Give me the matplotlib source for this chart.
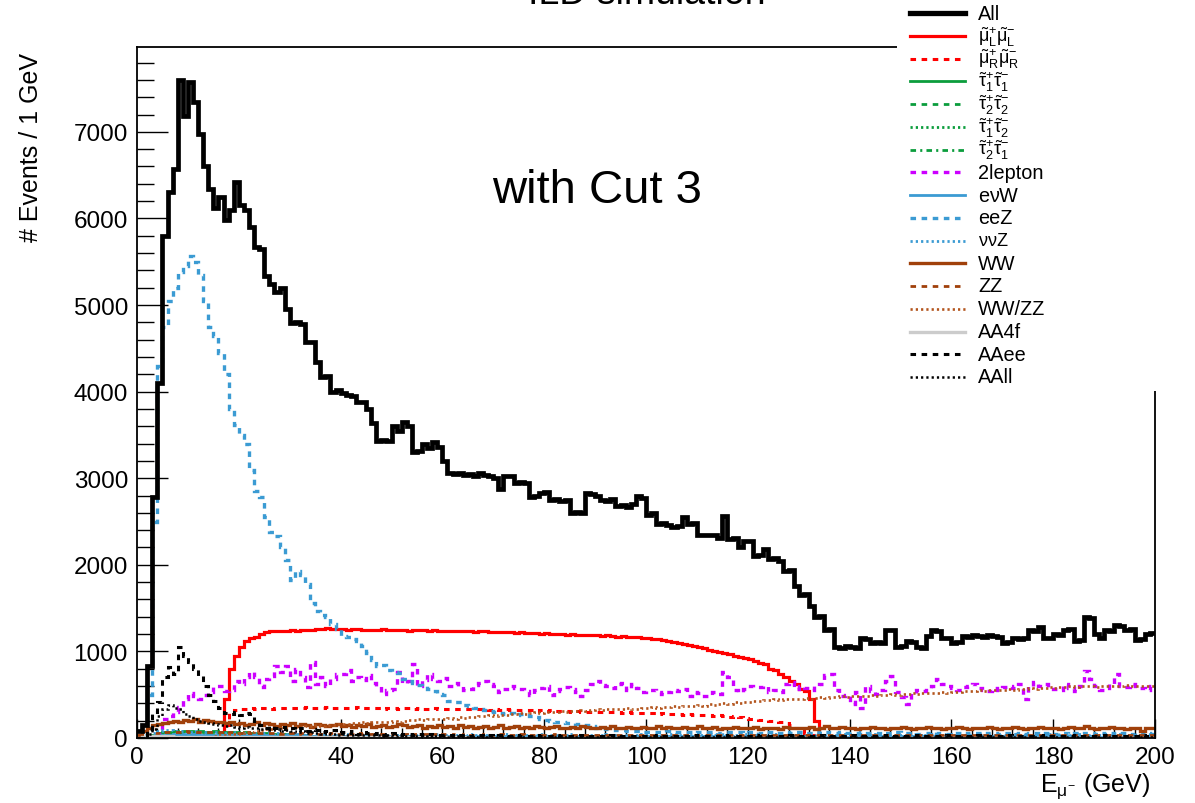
import numpy as np
import matplotlib
matplotlib.use('Agg')
import matplotlib.pyplot as plt
from matplotlib.lines import Line2D
from matplotlib.patches import Rectangle

plt.rcParams['font.family'] = ['Liberation Sans', 'DejaVu Sans']
plt.rcParams['mathtext.fontset'] = 'custom'
plt.rcParams['mathtext.rm'] = 'Liberation Sans'
plt.rcParams['mathtext.it'] = 'Liberation Sans'
plt.rcParams['mathtext.bf'] = 'Liberation Sans:bold'
plt.rcParams['lines.scale_dashes'] = False

# ---------------- data (1 GeV bins, 0-200 GeV) ----------------
BIN_EDGES = list(range(0, 201))

ALL = [
    80, 150, 830, 2780, 4100, 5800, 6300, 6570, 7600, 7180,
    7580, 7340, 6980, 6600, 6340, 6120, 6250, 5980, 6100, 6420,
    6150, 6100, 5900, 5670, 5650, 5340, 5240, 5150, 5200, 4960,
    4790, 4800, 4780, 4570, 4570, 4340, 4170, 4180, 4000, 4020,
    3990, 3960, 3950, 3880, 3880, 3800, 3640, 3430, 3440, 3430,
    3600, 3550, 3650, 3600, 3300, 3310, 3400, 3350, 3420, 3360,
    3200, 3060, 3050, 3060, 3040, 3050, 3030, 3060, 3040, 3020,
    3000, 2880, 3030, 3020, 2950, 2960, 2940, 2780, 2790, 2830,
    2840, 2750, 2760, 2740, 2750, 2600, 2610, 2600, 2830, 2820,
    2800, 2750, 2740, 2760, 2680, 2690, 2670, 2700, 2790, 2770,
    2570, 2600, 2470, 2480, 2460, 2440, 2450, 2550, 2470, 2480,
    2350, 2350, 2340, 2350, 2310, 2560, 2300, 2310, 2200, 2280,
    2280, 2100, 2110, 2180, 2070, 2080, 2040, 1930, 1940, 1760,
    1650, 1660, 1530, 1400, 1410, 1250, 1260, 1050, 1040, 1060,
    1050, 1040, 1150, 1140, 1100, 1110, 1100, 1250, 1250, 1050,
    1060, 1120, 1110, 1050, 1040, 1180, 1250, 1240, 1150, 1160,
    1100, 1110, 1180, 1170, 1190, 1180, 1170, 1190, 1180, 1170,
    1100, 1110, 1150, 1140, 1160, 1250, 1240, 1280, 1150, 1160,
    1200, 1190, 1250, 1260, 1120, 1130, 1400, 1390, 1200, 1150,
    1250, 1240, 1300, 1290, 1250, 1260, 1130, 1140, 1200, 1210,
]

SMU_L = [
    0, 0, 0, 0, 0, 0, 0, 0, 0, 0,
    0, 0, 0, 0, 0, 0, 0, 450, 800, 950,
    1050, 1120, 1150, 1170, 1200, 1220, 1230, 1240, 1240, 1235,
    1245, 1240, 1250, 1245, 1250, 1255, 1260, 1265, 1255, 1260,
    1255, 1250, 1260, 1255, 1250, 1250, 1245, 1250, 1255, 1250,
    1245, 1250, 1245, 1240, 1245, 1250, 1245, 1240, 1245, 1240,
    1240, 1235, 1240, 1230, 1235, 1230, 1225, 1235, 1230, 1225,
    1225, 1220, 1225, 1220, 1215, 1220, 1210, 1215, 1210, 1205,
    1210, 1200, 1205, 1200, 1195, 1200, 1190, 1195, 1190, 1185,
    1185, 1180, 1185, 1175, 1170, 1175, 1170, 1165, 1170, 1160,
    1150, 1145, 1140, 1130, 1120, 1110, 1100, 1090, 1070, 1060,
    1050, 1040, 1020, 1000, 990, 980, 970, 950, 940, 920,
    910, 890, 870, 850, 800, 780, 740, 700, 660, 620,
    570, 540, 450, 200, 0, 0, 0, 0, 0, 0,
] + [0] * 60

SMU_R = [
    0, 0, 0, 0, 0, 0, 0, 0, 0, 0,
    0, 0, 0, 0, 0, 0, 0, 150, 300, 320,
    340, 335, 345, 340, 350, 345, 340, 350, 345, 350,
    345, 350, 345, 355, 350, 345, 350, 355, 350, 345,
    350, 345, 350, 355, 345, 350, 345, 350, 340, 345,
    345, 340, 345, 350, 340, 345, 340, 335, 345, 340,
    335, 340, 335, 330, 340, 335, 330, 335, 330, 325,
    330, 325, 330, 320, 325, 320, 325, 320, 315, 320,
    315, 320, 310, 315, 310, 305, 310, 305, 300, 305,
    300, 305, 295, 300, 295, 290, 295, 290, 285, 290,
    285, 290, 280, 285, 280, 275, 280, 270, 275, 270,
    265, 270, 260, 255, 260, 250, 245, 250, 240, 235,
    225, 220, 210, 205, 200, 195, 185, 170, 150, 120,
    90, 60, 30, 10, 0, 0, 0, 0, 0, 0,
] + [0] * 60

STAU_11 = [
    0, 0, 0, 30, 60, 70, 75, 80, 75, 80,
    80, 75, 80, 70, 75, 80, 70, 75, 70, 65,
    60, 65, 55, 60, 50, 55, 45, 50, 40, 45,
    35, 30, 30, 25, 20, 20, 15, 10, 10, 5,
] + [0] * 160
STAU_22 = [
    0, 0, 0, 20, 35, 40, 45, 40, 45, 40,
    45, 40, 40, 35, 40, 35, 35, 30, 35, 30,
    25, 30, 25, 20, 25, 20, 15, 15, 10, 10,
] + [0] * 170
STAU_12 = [
    0, 0, 0, 15, 25, 30, 30, 35, 30, 30,
    35, 30, 30, 25, 30, 25, 25, 20, 25, 20,
    20, 15, 20, 15, 15, 10, 15, 10, 10, 5,
] + [0] * 170
STAU_21 = [
    0, 0, 0, 10, 20, 25, 25, 30, 25, 25,
    30, 25, 25, 20, 25, 20, 20, 15, 20, 15,
    15, 10, 15, 10, 10, 5, 10, 5, 5, 5,
] + [0] * 170

LEP2 = [
    0, 0, 0, 0, 50, 220, 250, 300, 360, 450,
    520, 480, 450, 500, 530, 600, 600, 540, 560, 660,
    620, 700, 760, 700, 590, 680, 720, 830, 760, 830,
    660, 800, 700, 590, 880, 620, 700, 600, 680, 740,
    740, 780, 660, 700, 665, 730, 640, 600, 510, 560,
    570, 760, 640, 660, 850, 600, 670, 740, 680, 660,
    690, 600, 640, 600, 550, 570, 610, 640, 660, 620,
    600, 530, 570, 600, 580, 570, 540, 500, 550, 580,
    600, 500, 540, 570, 590, 570, 530, 480, 560, 620,
    660, 610, 600, 580, 620, 640, 550, 620, 580, 530,
    560, 550, 530, 510, 530, 560, 540, 570, 480, 530,
    520, 480, 480, 530, 510, 760, 700, 550, 530, 570,
    600, 590, 590, 600, 530, 560, 530, 620, 650, 570,
    600, 580, 560, 600, 620, 730, 740, 560, 480, 500,
    390, 530, 350, 600, 540, 510, 560, 660, 720, 530,
    470, 390, 520, 560, 540, 580, 600, 680, 620, 600,
    580, 560, 590, 600, 620, 580, 560, 540, 580, 560,
    590, 600, 580, 620, 450, 600, 650, 600, 620, 590,
    570, 560, 620, 580, 540, 600, 770, 680, 600, 560,
    580, 620, 740, 600, 590, 620, 600, 580, 560, 600,
]

ENUW = [
    0, 0, 10, 20, 30, 40, 40, 45, 40, 45,
    40, 45, 40, 40, 35, 40, 35, 40, 35, 30,
    35, 30, 35, 30, 30, 35, 30, 25, 30, 30,
    25, 30, 25, 30, 25, 25, 30, 25, 25, 30,
    25, 20, 25, 25, 20, 25, 20, 25, 20, 25,
    20, 25, 20, 20, 25, 20, 25, 20, 20, 25,
    20, 20, 25, 20, 20, 25, 20, 20, 25, 20,
    20, 25, 20, 20, 25, 20, 20, 15, 20, 25,
    20, 15, 20, 25, 20, 15, 20, 20, 25, 20,
    15, 20, 25, 20, 15, 20, 20, 25, 20, 15,
    20, 25, 20, 15, 20, 20, 25, 20, 15, 20,
    25, 20, 15, 20, 20, 25, 20, 15, 20, 25,
    20, 15, 20, 20, 25, 20, 15, 20, 25, 20,
    15, 20, 20, 25, 20, 15, 20, 25, 20, 15,
    20, 20, 25, 20, 15, 20, 25, 20, 15, 20,
    20, 25, 20, 15, 20, 25, 20, 15, 20, 20,
    25, 20, 15, 20, 25, 20, 15, 20, 20, 25,
    20, 15, 20, 25, 20, 15, 20, 20, 25, 20,
    15, 20, 25, 20, 15, 20, 20, 25, 20, 15,
    20, 25, 20, 15, 20, 20, 25, 20, 15, 20,
]

EEZ = [
    0, 30, 500, 2500, 4300, 4750, 5050, 5200, 5380, 5450,
    5570, 5500, 5350, 5050, 4750, 4640, 4450, 4200, 3800, 3620,
    3500, 3400, 3100, 2850, 2780, 2550, 2380, 2330, 2200, 2050,
    1820, 1930, 1880, 1780, 1560, 1470, 1420, 1400, 1320, 1260,
    1180, 1170, 1140, 1120, 1060, 980, 900, 830, 840, 780,
    760, 750, 680, 660, 640, 610, 600, 570, 540, 510,
    500, 430, 410, 420, 380, 370, 350, 340, 320, 310,
    300, 290, 280, 290, 270, 280, 260, 250, 240, 220,
    210, 200, 190, 180, 170, 170, 160, 150, 150, 140,
    120, 110, 100, 100, 90, 90, 80, 80, 80, 75,
    70, 75, 65, 70, 80, 70, 65, 75, 70, 60,
    70, 65, 75, 70, 60, 65, 70, 75, 65, 60,
    65, 70, 60, 65, 70, 60, 55, 65, 60, 70,
    65, 60, 55, 65, 60, 70, 55, 60, 65, 60,
    55, 60, 65, 60, 55, 60, 50, 60, 55, 65,
    60, 55, 60, 50, 55, 60, 65, 55, 60, 50,
    55, 60, 50, 55, 60, 55, 50, 60, 55, 50,
    55, 60, 50, 55, 50, 60, 55, 50, 55, 60,
    50, 55, 60, 50, 55, 50, 55, 60, 50, 55,
    50, 55, 50, 60, 55, 50, 55, 50, 55, 50,
]

NUNUZ = [
    0, 0, 20, 60, 80, 90, 90, 85, 80, 80,
    75, 80, 70, 75, 70, 65, 70, 60, 65, 60,
    60, 55, 60, 55, 50, 55, 50, 55, 50, 45,
    45, 50, 45, 40, 45, 40, 45, 40, 40, 45,
    40, 45, 40, 35, 40, 45, 40, 35, 40, 40,
    35, 40, 45, 40, 35, 40, 40, 35, 40, 45,
    40, 35, 40, 40, 35, 45, 40, 35, 40, 40,
    35, 40, 45, 40, 35, 40, 40, 35, 40, 45,
    40, 35, 40, 40, 35, 45, 40, 35, 40, 40,
    35, 40, 45, 40, 35, 40, 40, 35, 40, 45,
    40, 35, 40, 40, 35, 45, 40, 35, 40, 40,
    35, 40, 45, 40, 35, 40, 40, 35, 40, 45,
    40, 35, 40, 40, 35, 45, 40, 35, 40, 40,
    35, 40, 45, 40, 35, 40, 40, 35, 40, 45,
    40, 35, 40, 40, 35, 45, 40, 35, 40, 40,
    35, 40, 45, 40, 35, 40, 40, 35, 40, 45,
    40, 35, 40, 40, 35, 45, 40, 35, 40, 40,
    35, 40, 45, 40, 35, 40, 40, 35, 40, 45,
    40, 35, 40, 40, 35, 45, 40, 35, 40, 40,
    35, 40, 45, 40, 35, 40, 40, 35, 40, 45,
]

WW = [
    30, 80, 120, 150, 160, 170, 180, 200, 190, 210,
    200, 220, 190, 210, 200, 180, 190, 170, 180, 160,
    170, 150, 160, 180, 150, 170, 160, 140, 160, 150,
    170, 140, 160, 150, 130, 160, 150, 140, 150, 160,
    140, 150, 130, 150, 140, 160, 130, 140, 150, 130,
    140, 160, 150, 130, 140, 150, 120, 140, 130, 150,
    130, 140, 120, 150, 130, 140, 120, 130, 140, 120,
    130, 150, 120, 130, 140, 120, 130, 120, 140, 130,
    120, 130, 140, 120, 110, 130, 120, 140, 130, 110,
    120, 130, 120, 140, 110, 120, 130, 110, 120, 130,
    120, 110, 140, 120, 130, 110, 120, 130, 110, 120,
    140, 110, 120, 130, 100, 120, 110, 130, 120, 110,
    120, 130, 100, 120, 110, 120, 100, 130, 110, 120,
    110, 120, 130, 100, 120, 140, 110, 120, 130, 110,
    120, 100, 110, 120, 130, 110, 120, 100, 120, 110,
    130, 120, 100, 110, 120, 130, 110, 120, 100, 110,
    120, 130, 110, 100, 120, 110, 120, 130, 110, 100,
    120, 110, 130, 120, 100, 110, 120, 130, 110, 120,
    110, 100, 120, 130, 110, 120, 140, 110, 100, 120,
    110, 130, 120, 110, 100, 120, 110, 80, 110, 120,
]

ZZ = [
    0, 10, 30, 50, 60, 70, 70, 75, 70, 80,
    75, 70, 75, 70, 65, 70, 65, 60, 65, 60,
    60, 65, 60, 55, 60, 55, 60, 55, 50, 55,
    55, 50, 55, 50, 55, 50, 45, 50, 55, 50,
    50, 45, 50, 55, 50, 45, 50, 45, 50, 45,
    45, 50, 45, 40, 45, 50, 45, 40, 45, 40,
    45, 40, 45, 40, 45, 40, 35, 40, 45, 40,
    40, 45, 40, 35, 40, 45, 40, 35, 40, 40,
    35, 40, 45, 40, 35, 40, 40, 35, 40, 35,
    40, 35, 40, 35, 40, 35, 40, 35, 35, 40,
    35, 40, 35, 40, 35, 35, 40, 35, 40, 35,
    35, 40, 35, 30, 35, 40, 35, 30, 35, 35,
    30, 35, 40, 35, 30, 35, 35, 30, 35, 40,
    35, 30, 35, 35, 30, 35, 40, 35, 30, 35,
    35, 30, 35, 40, 35, 30, 35, 35, 30, 35,
    40, 35, 30, 35, 35, 30, 35, 40, 35, 30,
    35, 35, 30, 35, 40, 35, 30, 35, 35, 30,
    35, 40, 35, 30, 35, 35, 30, 35, 40, 35,
    30, 35, 35, 30, 35, 40, 35, 30, 35, 35,
    30, 35, 40, 35, 30, 35, 35, 30, 35, 30,
]

WWZZ = [
    0, 0, 0, 0, 0, 0, 0, 0, 0, 0,
    0, 0, 0, 0, 0, 20, 30, 40, 50, 50,
    60, 70, 70, 80, 90, 100, 100, 110, 120, 120,
    120, 130, 125, 140, 135, 150, 140, 155, 150, 160,
    165, 160, 175, 170, 180, 175, 185, 180, 190, 185,
    195, 190, 200, 210, 205, 215, 210, 220, 215, 225,
    220, 230, 225, 240, 235, 245, 240, 255, 250, 260,
    255, 265, 270, 280, 275, 285, 280, 290, 295, 290,
    300, 295, 305, 310, 305, 315, 310, 320, 315, 325,
    330, 320, 335, 330, 340, 335, 345, 330, 340, 350,
    345, 355, 350, 360, 355, 365, 360, 370, 365, 375,
    380, 370, 390, 385, 395, 400, 390, 410, 405, 420,
    415, 430, 425, 440, 435, 445, 440, 450, 445, 455,
    450, 460, 455, 465, 470, 460, 475, 470, 480, 475,
    485, 480, 490, 485, 495, 490, 500, 495, 505, 500,
    510, 505, 515, 510, 520, 515, 525, 520, 530, 525,
    535, 530, 540, 545, 540, 550, 545, 555, 550, 560,
    555, 565, 560, 570, 565, 575, 570, 580, 575, 585,
    580, 590, 585, 595, 590, 600, 595, 600, 590, 605,
    600, 595, 605, 600, 610, 600, 595, 605, 600, 595,
]

AA4F = [
    0, 15, 20, 20, 20, 18, 18, 16, 16, 15,
    15, 15, 14, 14, 14, 13, 13, 13, 12, 12,
    12, 12, 11, 11, 11, 10, 10, 10, 10, 10,
    10, 10, 9, 9, 9, 9, 9, 9, 8, 8,
    8, 8, 8, 8, 8, 8, 7, 7, 7, 7,
    7, 7, 7, 7, 7, 6, 6, 6, 6, 6,
    6, 6, 6, 6, 6, 6, 5, 5, 5, 5,
    5, 5, 5, 5, 5, 5, 5, 5, 5, 5,
    5, 5, 5, 5, 5, 5, 5, 5, 5, 5,
    5, 5, 5, 5, 5, 5, 5, 5, 5, 5,
] + [4] * 100

AAEE = [
    0, 0, 100, 300, 420, 700, 820, 740, 1050, 950,
    880, 800, 720, 600, 500, 430, 350, 290, 280, 300,
    260, 290, 280, 200, 150, 120, 140, 110, 130, 100,
    120, 90, 110, 80, 100, 90, 70, 80, 90, 60,
    70, 60, 80, 50, 70, 60, 50, 60, 40, 50,
    60, 40, 50, 45, 40, 50, 35, 45, 40, 35,
    30, 40, 25, 35, 30, 25, 35, 30, 20, 30,
    25, 30, 20, 25, 30, 20, 25, 20, 30, 25,
    20, 25, 30, 20, 25, 20, 25, 30, 20, 25,
    20, 25, 20, 30, 25, 20, 25, 20, 25, 20,
    25, 20, 30, 25, 20, 25, 20, 25, 20, 30,
    25, 20, 25, 20, 25, 30, 20, 25, 20, 25,
    20, 30, 25, 20, 25, 20, 25, 20, 30, 25,
    20, 25, 20, 25, 30, 20, 25, 20, 25, 20,
    30, 25, 20, 25, 20, 25, 20, 30, 25, 20,
    25, 20, 25, 30, 20, 25, 20, 25, 20, 30,
    25, 20, 25, 20, 25, 30, 20, 25, 20, 25,
    20, 30, 25, 20, 25, 20, 25, 20, 30, 25,
    20, 25, 20, 25, 30, 20, 25, 20, 25, 20,
    30, 25, 20, 25, 20, 25, 20, 30, 25, 20,
]

AALL = [
    0, 0, 50, 100, 250, 330, 380, 350, 330, 280,
    250, 220, 200, 190, 170, 160, 150, 140, 150, 130,
    120, 130, 110, 120, 100, 110, 90, 100, 80, 90,
    80, 70, 80, 60, 70, 60, 50, 60, 50, 40,
    45, 40, 35, 40, 30, 35, 30, 35, 25, 30,
    25, 30, 20, 25, 20, 25, 20, 15, 20, 15,
    20, 15, 15, 20, 15, 10, 15, 20, 15, 10,
    15, 10, 15, 10, 15, 10, 10, 15, 10, 10,
    15, 10, 10, 15, 10, 10, 15, 10, 10, 15,
    10, 10, 15, 10, 10, 15, 10, 10, 15, 10,
    10, 15, 10, 10, 15, 10, 10, 15, 10, 10,
    15, 10, 10, 15, 10, 10, 15, 10, 10, 15,
    10, 10, 15, 10, 10, 15, 10, 10, 15, 10,
    10, 15, 10, 10, 15, 10, 10, 15, 10, 10,
    15, 10, 10, 15, 10, 10, 15, 10, 10, 15,
    10, 10, 15, 10, 10, 15, 10, 10, 15, 10,
    10, 15, 10, 10, 15, 10, 10, 15, 10, 10,
    15, 10, 10, 15, 10, 10, 15, 10, 10, 15,
    10, 10, 15, 10, 10, 15, 10, 10, 15, 10,
    10, 15, 10, 10, 15, 10, 10, 15, 10, 10,
]

X_TICKS = [0, 20, 40, 60, 80, 100, 120, 140, 160, 180, 200]
Y_TICKS = [0, 1000, 2000, 3000, 4000, 5000, 6000, 7000]

LABELS = ['All',
          r'$\tilde{\mu}_{L}^{+}\tilde{\mu}_{L}^{-}$',
          r'$\tilde{\mu}_{R}^{+}\tilde{\mu}_{R}^{-}$',
          r'$\tilde{\tau}_{1}^{+}\tilde{\tau}_{1}^{-}$',
          r'$\tilde{\tau}_{2}^{+}\tilde{\tau}_{2}^{-}$',
          r'$\tilde{\tau}_{1}^{+}\tilde{\tau}_{2}^{-}$',
          r'$\tilde{\tau}_{2}^{+}\tilde{\tau}_{1}^{-}$',
          '2lepton', r'e$\nu$W', 'eeZ', r'$\nu\nu$Z', 'WW', 'ZZ', 'WW/ZZ',
          'AA4f', 'AAee', 'AAll']

# ---------------- styles ----------------
RED = '#ff0000'
GREEN = '#0b9d3c'
BLUE = '#3b9bd3'
MAG = '#cc00ff'
BROWN = '#a0400a'
BROWN2 = '#b3541c'
GREY = '#cccccc'
SOLID = '-'
DASH = (0, (4.0, 4.0))
DOT = (0, (1.6, 2.2))
DASHDOT = (0, (4.0, 3.0, 1.5, 3.0))

series = [
    (ALL, 'k', 3.4, SOLID),
    (SMU_L, RED, 2.3, SOLID),
    (SMU_R, RED, 2.2, DASH),
    (STAU_11, GREEN, 2.0, SOLID),
    (STAU_22, GREEN, 2.0, DASH),
    (STAU_12, GREEN, 2.0, DOT),
    (STAU_21, GREEN, 2.0, DASHDOT),
    (LEP2, MAG, 2.4, DASH),
    (ENUW, BLUE, 2.0, SOLID),
    (EEZ, BLUE, 2.4, DASH),
    (NUNUZ, BLUE, 2.0, DOT),
    (WW, BROWN, 2.4, SOLID),
    (ZZ, BROWN, 2.0, DASH),
    (WWZZ, BROWN2, 1.9, DOT),
    (AA4F, GREY, 2.4, SOLID),
    (AAEE, 'k', 2.2, DASH),
    (AALL, 'k', 1.8, DOT),
]

W, H = 1195, 804
fig = plt.figure(figsize=(W / 100, H / 100), dpi=100)
ax = fig.add_axes([137 / W, 1 - 739 / H, 1018 / W, 691 / H])

draw_order = list(range(1, len(series))) + [0]
for i in draw_order:
    vals, col, lw, ls = series[i]
    ax.stairs(vals, BIN_EDGES, color=col, linewidth=lw, linestyle=ls,
              baseline=None, zorder=3 if i == 0 else 2)

ax.set_xlim(0, 200)
ax.set_ylim(0, 7980)
ax.set_xticks(X_TICKS)
ax.set_yticks(Y_TICKS)
ax.set_xticks(np.arange(0, 201, 4), minor=True)
ax.set_yticks(np.arange(0, 7981, 200), minor=True)
ax.tick_params(axis='both', which='both', direction='in', top=False, right=False,
               labelsize=17.5, width=1.0, colors='k')
ax.tick_params(axis='x', which='major', length=14, pad=6)
ax.tick_params(axis='x', which='minor', length=7)
ax.tick_params(axis='y', which='major', length=22.5, pad=6.5)
ax.tick_params(axis='y', which='minor', length=12)
for sp in ax.spines.values():
    sp.set_linewidth(1.3)

ax.set_ylabel('# Events / 1 GeV', fontsize=18)
ax.yaxis.label.set_horizontalalignment('right')
ax.yaxis.set_label_coords((43 - 137) / 1018, (739 - 53) / 691)

ax.set_xlabel(r'E$_{\mu^{-}}$ (GeV)', fontsize=18)
ax.xaxis.label.set_horizontalalignment('right')
ax.xaxis.label.set_verticalalignment('baseline')
ax.xaxis.set_label_coords((1150 - 137) / 1018, (739 - 792) / 691)

ax.text(69.7, 6190, 'with Cut 3', fontsize=34, ha='left', va='baseline')

fig.text(647 / W, 1 - 4 / H, 'ILD simulation', fontsize=27, ha='center', va='baseline')

# ---------------- legend (top right, over frame) ----------------
fig.add_artist(Rectangle((897 / W, 1 - 392 / H), (W - 897) / W, 392 / H,
                         transform=fig.transFigure, facecolor='white',
                         edgecolor='none', zorder=5))
y0, pitch = 14.0, 22.75
for k, (lab, (vals, col, lw, ls)) in enumerate(zip(LABELS, series)):
    yp = 1 - (y0 + k * pitch) / H
    fig.add_artist(Line2D([910 / W, 965 / W], [yp, yp], transform=fig.transFigure,
                          color=col, linewidth=(3.8 if k == 0 else lw), linestyle=ls,
                          zorder=6))
    fs = 13.0 if lab.startswith('$') else 14.3
    fig.text(978 / W, yp, lab, fontsize=fs, ha='left', va='center', zorder=6)

fig.savefig('out.png', dpi=100)
